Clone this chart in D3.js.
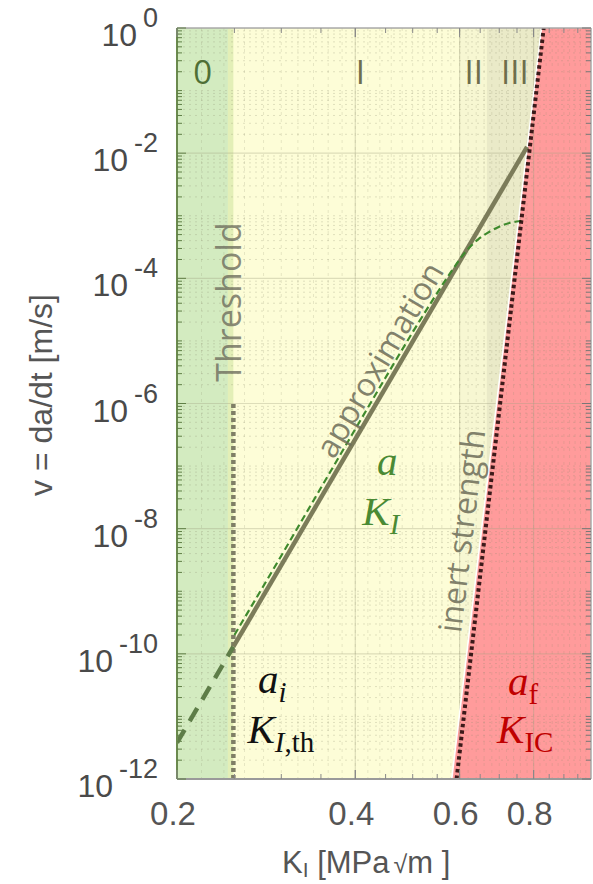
<!DOCTYPE html>
<html><head><meta charset="utf-8">
<script src="https://cdn.jsdelivr.net/npm/d3@7"></script>
<style>
html,body{margin:0;padding:0;background:#fff;}
svg{display:block;}
</style></head><body>
<svg id="chart" width="593" height="884"></svg>
<script>
// ---------------- data ----------------
const yTickExponents = [0, -2, -4, -6, -8, -10, -12];
const xTickValues = [0.2, 0.4, 0.6, 0.8];
const xTickLabels = ["0.2", "0.4", "0.6", "0.8"];
const regionNames = ["0", "I", "II", "III"];
const regionLabelK = [0.221, 0.408, 0.634, 0.744];
const regionLabelV = 1.3e-1;
const greenEdgeK = 0.2438;
const thresholdK = 0.249;
const thresholdV = [1e-12, 1e-6];
const approxK = [0.249, 0.78];
const approxV = [1.3e-10, 1.26e-2];
const extrapK = [0.2, 0.249];
const extrapV = [3.8e-12, 1.3e-10];
const crackK = [0.25, 0.30, 0.35, 0.40, 0.45, 0.50, 0.545, 0.58, 0.617, 0.645, 0.675, 0.71, 0.749, 0.772];
const crackV = [2.0e-10, 3.7e-9, 4.5e-8, 3.9e-7, 2.6e-6, 1.38e-5, 5.1e-5, 1.26e-4, 2.8e-4, 4.2e-4, 5.6e-4, 7.1e-4, 8.1e-4, 8.3e-4];
const inertK = [0.593, 0.832];
const inertV = [1e-12, 1];
const fractureEdgeK = [0.582, 0.825];
const fractureEdgeV = [1e-12, 1];
const region2K = [0.6, 0.667];
const region3K = [0.667];

// ---------------- layout ----------------
const X0 = 177, X1 = 591, Y0 = 28, Y1 = 779;
const x = d3.scaleLog().domain([0.2, 1.0]).range([X0, X1]);
const y = d3.scaleLog().domain([1e-12, 1]).range([Y1, Y0]);
const svg = d3.select("#chart");

const defs = svg.append("defs");
defs.append("clipPath").attr("id", "plotclip")
  .append("rect").attr("x", X0).attr("y", Y0).attr("width", X1 - X0).attr("height", Y1 - Y0);

const plot = svg.append("g").attr("clip-path", "url(#plotclip)");

function edgeKAt(v, K, V) {
  const t = (Math.log10(v) - Math.log10(V[0])) / (Math.log10(V[1]) - Math.log10(V[0]));
  return Math.pow(10, Math.log10(K[0]) + t * (Math.log10(K[1]) - Math.log10(K[0])));
}
function edgeVAt(k, K, V) {
  const t = (Math.log10(k) - Math.log10(K[0])) / (Math.log10(K[1]) - Math.log10(K[0]));
  return Math.pow(10, Math.log10(V[0]) + t * (Math.log10(V[1]) - Math.log10(V[0])));
}

// backgrounds
plot.append("rect").attr("x", X0).attr("y", Y0).attr("width", X1 - X0).attr("height", Y1 - Y0).attr("fill", "#fdfdd7");
plot.append("rect").attr("x", x(0.2)).attr("y", Y0).attr("width", x(greenEdgeK) - x(0.2)).attr("height", Y1 - Y0).attr("fill", "#d3ebc0");
plot.append("rect").attr("x", x(greenEdgeK)).attr("y", Y0).attr("width", x(thresholdK) - x(greenEdgeK)).attr("height", Y1 - Y0).attr("fill", "#e3efb7");

const poly = d3.line().x(d => x(d[0])).y(d => y(d[1]));
const v2 = edgeVAt(region2K[0], fractureEdgeK, fractureEdgeV);
const v3 = edgeVAt(region2K[1], fractureEdgeK, fractureEdgeV);
plot.append("path").attr("d", poly([[region2K[0], 1], [region2K[1], 1], [region2K[1], v3], [region2K[0], v2]]) + "Z").attr("fill", "#f7f7d2");
plot.append("path").attr("d", poly([[region3K[0], 1], [fractureEdgeK[1], 1], [region3K[0], v3]]) + "Z").attr("fill", "#eaeac8");
plot.append("path").attr("d", poly([[fractureEdgeK[0], 1e-12], [fractureEdgeK[1], 1], [1.0, 1], [1.0, 1e-12]]) + "Z").attr("fill", "#ff9b9b");

// grid
const grid = plot.append("g");
const decades = d3.range(-12, 1);
const minorY = [];
decades.forEach(e => { for (let m = 1; m <= 9; m++) { const v = m * Math.pow(10, e); if (v <= 1 && !(m === 1 && e % 2 === 0)) minorY.push(v); } });
grid.selectAll(".gmy").data(minorY).enter().append("line")
  .attr("x1", X0).attr("x2", X1).attr("y1", d => y(d)).attr("y2", d => y(d))
  .attr("stroke", "#8a8a70").attr("stroke-opacity", 0.25).attr("stroke-width", 1).attr("stroke-dasharray", "2,4");
const minorX = d3.range(0.22, 0.99, 0.02);
grid.selectAll(".gmx").data(minorX).enter().append("line")
  .attr("y1", Y0).attr("y2", Y1).attr("x1", d => x(d)).attr("x2", d => x(d))
  .attr("stroke", "#8a8a70").attr("stroke-opacity", 0.2).attr("stroke-width", 1).attr("stroke-dasharray", "3,4");
grid.selectAll(".gMy").data(yTickExponents).enter().append("line")
  .attr("x1", X0).attr("x2", X1).attr("y1", d => y(Math.pow(10, d))).attr("y2", d => y(Math.pow(10, d)))
  .attr("stroke", "#a0a080").attr("stroke-opacity", 0.35).attr("stroke-width", 1.2);
grid.selectAll(".gMx").data(xTickValues.concat([1.0])).enter().append("line")
  .attr("y1", Y0).attr("y2", Y1).attr("x1", d => x(d)).attr("x2", d => x(d))
  .attr("stroke", "#a0a080").attr("stroke-opacity", 0.35).attr("stroke-width", 1.2);

// lines
const line2 = d3.line().x(d => x(d[0])).y(d => y(d[1]));
plot.append("path").attr("d", line2(fractureEdgeK.map((k, i) => [k, fractureEdgeV[i]])))
  .attr("stroke", "#ffffff").attr("stroke-width", 1.6).attr("fill", "none");
plot.append("path").attr("d", line2([[thresholdK, thresholdV[0]], [thresholdK, thresholdV[1]]]))
  .attr("stroke", "#7f7f66").attr("stroke-width", 4.5).attr("stroke-dasharray", "4,3").attr("fill", "none");
plot.append("path").attr("d", line2(extrapK.map((k, i) => [k, extrapV[i]])))
  .attr("stroke", "#5e7d48").attr("stroke-width", 4.5).attr("stroke-dasharray", "15,10").attr("fill", "none");
plot.append("path").attr("d", line2(approxK.map((k, i) => [k, approxV[i]])))
  .attr("stroke", "#7c7c5a").attr("stroke-width", 4.5).attr("fill", "none");
plot.append("path").attr("d", d3.line().x(d => x(d[0])).y(d => y(d[1])).curve(d3.curveMonotoneX)(crackK.map((k, i) => [k, crackV[i]])))
  .attr("stroke", "#3f8a2d").attr("stroke-width", 2.2).attr("stroke-dasharray", "7,4").attr("fill", "none");
plot.append("path").attr("d", line2(inertK.map((k, i) => [k, inertV[i]])))
  .attr("stroke", "#1a0404").attr("stroke-opacity", 0.85).attr("stroke-width", 4).attr("stroke-dasharray", "3.5,3").attr("fill", "none");

// axes frame
svg.append("line").attr("x1", X0).attr("x2", X1).attr("y1", Y0).attr("y2", Y0).attr("stroke", "#aaaaaa").attr("stroke-width", 1.5);
svg.append("line").attr("x1", X1).attr("x2", X1).attr("y1", Y0).attr("y2", Y1).attr("stroke", "#aaaaaa").attr("stroke-width", 1.5);
svg.append("line").attr("x1", X0).attr("x2", X1).attr("y1", Y1).attr("y2", Y1).attr("stroke", "#9a9a9a").attr("stroke-width", 2);
svg.append("line").attr("x1", X0).attr("x2", X0).attr("y1", Y0).attr("y2", Y1).attr("stroke", "#6b8a4e").attr("stroke-width", 2);

// ticks
const ticks = svg.append("g");
const majorYv = yTickExponents.map(e => Math.pow(10, e));
ticks.selectAll(".tyl").data(minorY.concat(majorYv)).enter().append("line")
  .attr("x1", X0).attr("x2", d => X0 + (majorYv.includes(d) ? 9 : 5)).attr("y1", d => y(d)).attr("y2", d => y(d))
  .attr("stroke", "#5f7f45").attr("stroke-width", 1);
ticks.selectAll(".tyr").data(minorY.concat(majorYv)).enter().append("line")
  .attr("x1", X1).attr("x2", d => X1 - (majorYv.includes(d) ? 9 : 5)).attr("y1", d => y(d)).attr("y2", d => y(d))
  .attr("stroke", "#777").attr("stroke-width", 1);
const tickX = d3.range(0.25, 0.99, 0.05);
ticks.selectAll(".txb").data(tickX.concat(xTickValues)).enter().append("line")
  .attr("y1", Y1).attr("y2", d => Y1 - (xTickValues.includes(d) ? 9 : 5)).attr("x1", d => x(d)).attr("x2", d => x(d))
  .attr("stroke", "#888").attr("stroke-width", 1);
ticks.selectAll(".txt").data(tickX.concat(xTickValues)).enter().append("line")
  .attr("y1", Y0).attr("y2", d => Y0 + (xTickValues.includes(d) ? 9 : 5)).attr("x1", d => x(d)).attr("x2", d => x(d))
  .attr("stroke", "#888").attr("stroke-width", 1);

// tick labels
const sans = "'Liberation Sans', Arial, sans-serif";
yTickExponents.forEach(e => {
  const t = svg.append("text").attr("x", 158).attr("y", y(Math.pow(10, e)) + 18)
    .attr("text-anchor", "end").attr("font-family", sans).attr("font-size", 32).attr("fill", "#4a4a4a");
  t.append("tspan").text("10");
  t.append("tspan").attr("dx", 6).attr("dy", -19).attr("font-size", 27).text(e === 0 ? "0" : "-" + Math.abs(e));
});
xTickValues.forEach((v, i) => {
  svg.append("text").attr("x", x(v) - 4).attr("y", 825).attr("text-anchor", "middle")
    .attr("font-family", sans).attr("font-size", 33).attr("fill", "#555").text(xTickLabels[i]);
});

// axis titles
const xt = svg.append("text").attr("x", 282).attr("y", 873).attr("font-family", sans).attr("font-size", 31).attr("fill", "#555");
xt.append("tspan").text("K");
xt.append("tspan").attr("font-size", 21).attr("dy", 4).text("I");
xt.append("tspan").attr("dy", -4).text(" [MPa");
xt.append("tspan").attr("font-size", 25).attr("dx", 4).text("\u221A");
xt.append("tspan").text("m ]");

svg.append("text").attr("transform", "translate(52,395) rotate(-90)").attr("text-anchor", "middle")
  .attr("font-family", "'Liberation Sans Narrow', 'Arial Narrow', 'Liberation Sans', sans-serif").attr("font-size", 32)
  .attr("fill", "#555").text("v = da/dt [m/s]");

// region labels
const osans = "'Open Sans', 'Noto Sans', sans-serif";
regionNames.forEach((n, i) => {
  svg.append("text").attr("x", x(regionLabelK[i])).attr("y", y(regionLabelV) + 1)
    .attr("text-anchor", "middle").attr("font-family", osans).attr("font-size", 33)
    .attr("fill", i === 0 ? "#4f6f36" : "#6e6e4c").text(n);
});

// annotation texts
svg.append("text").attr("transform", `translate(${x(thresholdK) + 8},302) rotate(-90)`)
  .attr("text-anchor", "middle").attr("font-family", osans).attr("font-size", 34)
  .attr("fill", "#6c6c5c").attr("fill-opacity", 0.8).text("Threshold");

const ax0 = x(approxK[0]), ay0 = y(approxV[0]), ax1 = x(approxK[1]), ay1 = y(approxV[1]);
const aAng = Math.atan2(ay1 - ay0, ax1 - ax0) * 180 / Math.PI;
const aK = 0.469;
const aV = edgeVAt(aK, approxK, approxV);
svg.append("text").attr("transform", `translate(${x(aK)},${y(aV)}) rotate(${aAng})`)
  .attr("x", 0).attr("y", -8).attr("text-anchor", "middle").attr("font-family", osans).attr("font-size", 32)
  .attr("fill", "#6c6c58").attr("fill-opacity", 0.85).text("approximation");

const iAng = Math.atan2(y(fractureEdgeV[1]) - y(fractureEdgeV[0]), x(fractureEdgeK[1]) - x(fractureEdgeK[0])) * 180 / Math.PI;
const iV = Math.pow(10, -8.07);
const iK = edgeKAt(iV, fractureEdgeK, fractureEdgeV);
svg.append("text").attr("transform", `translate(${x(iK)},${y(iV)}) rotate(${iAng})`)
  .attr("x", 0).attr("y", -8).attr("text-anchor", "middle").attr("font-family", osans).attr("font-size", 32)
  .attr("fill", "#6c6c58").attr("fill-opacity", 0.85).text("inert strength");

// math labels
const serif = "'Liberation Serif', 'Times New Roman', serif";
function mathLabel(K, v, base, color, subItalicPart, subUpPart) {
  const t = svg.append("text").attr("x", x(K)).attr("y", y(v)).attr("font-family", serif)
    .attr("font-size", 41).attr("fill", color);
  t.append("tspan").attr("font-style", "italic").text(base);
  if (subItalicPart) t.append("tspan").attr("font-style", "italic").attr("font-size", 29).attr("dy", 9).text(subItalicPart);
  if (subUpPart) t.append("tspan").attr("font-size", 29).attr("dy", subItalicPart ? 0 : 9).text(subUpPart);
}
mathLabel(0.435, Math.pow(10, -7.14), "a", "#4a8a34", null, null);
mathLabel(0.411, Math.pow(10, -7.94), "K", "#4a8a34", "I", null);
mathLabel(0.274, Math.pow(10, -10.62), "a", "#111", "i", null);
mathLabel(0.263, Math.pow(10, -11.42), "K", "#111", "I", ",th");
mathLabel(0.724, Math.pow(10, -10.655), "a", "#c00000", null, "f");
mathLabel(0.694, Math.pow(10, -11.42), "K", "#c00000", null, "IC");
</script>
</body></html>
